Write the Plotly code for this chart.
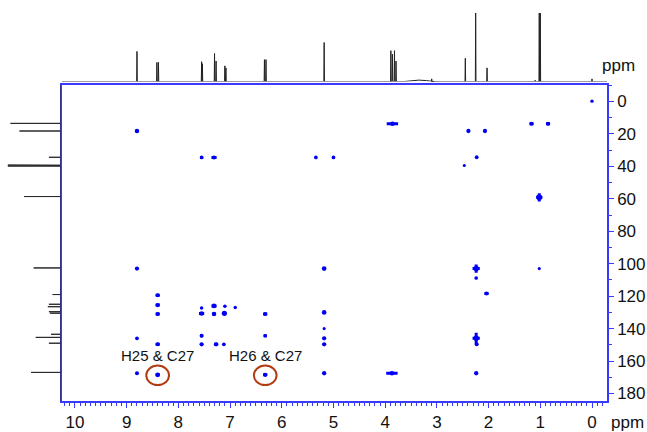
import plotly.graph_objects as go

# ---- 2D HMBC cross peaks: 1H shift, 13C shift, relative intensity,
#      half-spread of the multiplet along 1H and along 13C (ppm)
cp_h = [0.00, 8.80, 3.86, 2.39, 2.07, 1.17, 0.85, 7.55, 7.31, 5.34, 5.00, 2.23, 2.47,
        1.02, 8.80, 5.18, 2.24, 2.24, 1.02, 2.04, 8.40, 8.40, 8.40, 7.55, 7.31, 7.10,
        6.90, 7.55, 7.31, 7.11, 6.32, 5.18, 5.18, 8.80, 8.40, 7.55, 7.55, 7.27, 7.12,
        6.32, 5.18, 5.18, 2.24, 2.23, 8.80, 8.40, 6.32, 5.18, 3.87, 2.24]
cp_c = [-0.2, 18.2, 13.7, 18.2, 18.2, 13.7, 13.7, 34.5, 34.5, 34.5, 34.5, 34.4, 39.5,
        59.1, 103.0, 103.0, 103.0, 108.8, 103.0, 118.4, 119.5, 125.5, 131.0, 127.3, 126.0, 126.2,
        127.0, 130.7, 131.0, 130.6, 131.0, 130.0, 140.0, 146.0, 149.7, 144.4, 149.7, 149.7, 149.7,
        144.4, 146.0, 149.7, 146.0, 149.7, 167.5, 168.5, 168.5, 167.5, 167.5, 167.5]
cp_int = [0.2, 0.6, 0.6, 0.5, 0.5, 0.4, 0.4, 0.3, 0.4, 0.3, 0.3, 0.35, 0.1,
          1.0, 0.5, 0.6, 0.9, 0.3, 0.1, 0.4, 0.4, 0.5, 0.4, 0.25, 0.6, 0.25,
          0.2, 0.6, 0.5, 0.8, 0.4, 0.6, 0.1, 0.3, 0.4, 0.4, 0.5, 0.5, 0.3,
          0.3, 0.5, 0.5, 0.9, 0.4, 0.4, 0.6, 0.5, 0.5, 0.6, 0.5]
cp_hw = [0, 0, 0.11, 0, 0, 0.04, 0.04, 0.03, 0.05, 0, 0, 0, 0,
         0.06, 0, 0.03, 0.07, 0, 0, 0.04, 0.04, 0.04, 0.04, 0, 0.05, 0,
         0, 0.05, 0.04, 0, 0.04, 0, 0, 0, 0.04, 0.03, 0, 0.04, 0,
         0.03, 0, 0, 0.07, 0, 0, 0.04, 0.04, 0, 0.11, 0]
cp_cw = [0, 0, 0, 0, 0, 0, 0, 0, 0, 0, 0, 0, 0,
         2.5, 0, 0, 2.5, 0, 0, 0, 0, 0, 0, 0, 0, 0,
         0, 0, 0, 0, 0, 0, 0, 0, 0, 0, 0, 0, 0,
         0, 0, 0, 3.5, 0, 0, 0, 0, 0, 0, 0]

# ---- 1D 1H projection (ppm, relative height)
h1_ppm = [8.80, 8.415, 8.385, 7.55, 7.535, 7.30, 7.27, 7.10, 7.08, 6.335, 6.305, 5.18,
          3.89, 3.86, 3.82, 3.79, 3.10, 2.45, 2.25, 2.03, 1.10, 1.02, 1.00, 0.00]
h1_int = [0.44, 0.28, 0.28, 0.29, 0.26, 0.41, 0.30, 0.23, 0.20, 0.32, 0.32, 0.57,
          0.45, 0.40, 0.45, 0.30, 0.04, 0.34, 1.00, 0.20, 0.02, 1.00, 1.00, 0.04]
# broad exchangeable hump
hump_ppm = [3.65, 3.50, 3.35, 3.20, 3.05]
hump_int = [0.0, 0.015, 0.022, 0.015, 0.0]

# ---- 1D 13C projection (ppm, relative height)
c13_ppm = [13.5, 18.2, 34.4, 39.2, 39.5, 39.8, 58.6, 102.6, 119.0, 125.0, 126.5,
           129.6, 130.5, 143.5, 145.4, 149.0, 167.0]
c13_int = [0.95, 0.78, 0.22, 1.0, 1.0, 1.0, 0.69, 0.51, 0.15, 0.22, 0.24,
           0.22, 0.20, 0.18, 0.47, 0.22, 0.56]

# ---- highlighted correlations
notes_h = [8.40, 6.32]
notes_c = [168.8, 168.8]
notes_txt = ["H25 & C27", "H26 & C27"]

X_RANGE = [10.25, -0.29]
Y_RANGE = [184.7, -10.4]
W, H = 647, 432
BLUE = "#3a3aff"
PEAK = "#0000f5"
FONT = "Liberation Sans, Arial, Helvetica, sans-serif"

fig = go.Figure()

# cross peaks: dots
fig.add_trace(go.Scatter(
    x=cp_h, y=cp_c, mode="markers", xaxis="x", yaxis="y",
    marker=dict(color=PEAK, opacity=1, size=[2.8 + 3.0 * v for v in cp_int],
                line=dict(width=0)),
    hoverinfo="skip", showlegend=False))

# cross peaks: spread along 1H
sx, sy = [], []
for h, c, w in zip(cp_h, cp_c, cp_hw):
    if w > 0:
        sx += [h + w, h - w, None]
        sy += [c, c, None]
fig.add_trace(go.Scatter(x=sx, y=sy, mode="lines", xaxis="x", yaxis="y",
                         line=dict(color=PEAK, width=3), hoverinfo="skip",
                         showlegend=False))
# cross peaks: spread along 13C
vx, vy = [], []
for h, c, w in zip(cp_h, cp_c, cp_cw):
    if w > 0:
        vx += [h, h, None]
        vy += [c - w, c + w, None]
fig.add_trace(go.Scatter(x=vx, y=vy, mode="lines", xaxis="x", yaxis="y",
                         line=dict(color=PEAK, width=3), hoverinfo="skip",
                         showlegend=False))

# 1H projection as a stick spectrum on a baseline
pk = sorted(zip(h1_ppm, h1_int), reverse=True)
tx, ty = [X_RANGE[0]], [0]
hump = list(zip(hump_ppm, hump_int))
for p, v in pk:
    if hump and p < hump[0][0]:
        for hp, hv in hump:
            tx.append(hp); ty.append(hv)
        hump = []
    tx += [p + 0.006, p, p - 0.006]
    ty += [0, v, 0]
tx.append(X_RANGE[1]); ty.append(0)
fig.add_trace(go.Scatter(x=tx, y=ty, mode="lines", xaxis="x2", yaxis="y2",
                         line=dict(color="#222222", width=1), hoverinfo="skip",
                         showlegend=False))

# 13C projection as horizontal sticks off a vertical baseline
cx, cy = [0], [Y_RANGE[1]]
for p, v in sorted(zip(c13_ppm, c13_int)):
    cx += [0, v, 0]
    cy += [p, p, p]
cx.append(0); cy.append(Y_RANGE[0])
fig.add_trace(go.Scatter(x=cx, y=cy, mode="lines", xaxis="x3", yaxis="y3",
                         line=dict(color="#2a2a2a", width=1), hoverinfo="skip",
                         showlegend=False))

# highlight rings and their labels
shapes = []
annotations = []
for h, c, t in zip(notes_h, notes_c, notes_txt):
    shapes.append(dict(type="circle", xref="x", yref="y",
                       x0=h + 0.22, x1=h - 0.22, y0=c - 6.0, y1=c + 6.0,
                       line=dict(color="#b23c12", width=2)))
    annotations.append(dict(x=h, y=c - 12.2, xref="x", yref="y", text=t,
                            showarrow=False, font=dict(family=FONT, size=15, color="#111")))

for px, py in [(627, 424), (618, 66)]:
    annotations.append(dict(x=px / W, y=1 - py / H, xref="paper", yref="paper", text="ppm",
                            xanchor="center", yanchor="middle", showarrow=False,
                            font=dict(family=FONT, size=17, color="#111")))

main_x = [62 / W, 607 / W]
main_y = [1 - 403 / H, 1 - 85 / H]

fig.update_layout(
    width=W, height=H, margin=dict(l=0, r=0, t=0, b=0),
    paper_bgcolor="white", plot_bgcolor="white",
    font=dict(family=FONT, color="#111"),
    shapes=shapes, annotations=annotations,
    xaxis=dict(domain=main_x, range=X_RANGE, anchor="y", showgrid=False, zeroline=False,
               showline=True, linecolor=BLUE, linewidth=1.5, mirror=True,
               ticks="outside", tickcolor=BLUE, ticklen=5, tickwidth=1.2,
               dtick=1, tick0=0, tickfont=dict(size=17, color="#111"),
               minor=dict(dtick=0.1, ticks="outside", ticklen=3,
                          tickcolor=BLUE, tickwidth=1)),
    yaxis=dict(domain=main_y, range=Y_RANGE, anchor="x", side="right", showgrid=False,
               zeroline=False, showline=True, linecolor=BLUE, linewidth=1.5, mirror=True,
               ticks="outside", tickcolor=BLUE, ticklen=5, tickwidth=1.2,
               dtick=20, tick0=0, tickfont=dict(size=17, color="#111"),
               minor=dict(dtick=10, ticks="outside", ticklen=3,
                          tickcolor=BLUE, tickwidth=1)),
    xaxis2=dict(domain=main_x, range=X_RANGE, anchor="y2", visible=False),
    yaxis2=dict(domain=[1 - 82 / H, 1 - 13 / H], range=[0, 1.0], anchor="x2", visible=False),
    xaxis3=dict(domain=[0, 60.5 / W], range=[1.15, 0], anchor="y3", visible=False),
    yaxis3=dict(domain=main_y, range=Y_RANGE, anchor="x3", visible=False),
)

fig.write_html("out.html")
